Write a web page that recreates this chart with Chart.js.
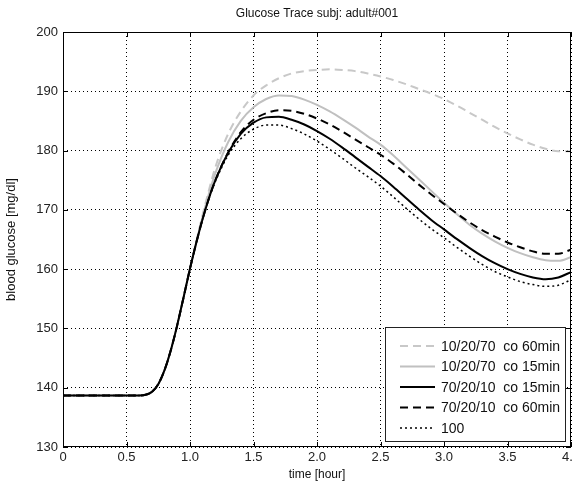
<!DOCTYPE html>
<html>
<head>
<meta charset="utf-8">
<script src="https://cdn.jsdelivr.net/npm/chart.js@4.4.1/dist/chart.umd.min.js"></script>
<style>
body { margin: 0; background: #fff; }
#wrap { width: 572px; height: 482px; }
</style>
</head>
<body>
<div id="wrap"><canvas id="myChart"></canvas></div>
<script>
// time axis (hours)
var hours = [0, 0.6, 0.65, 0.7, 0.75, 0.8, 0.85, 0.9, 0.95, 1.0, 1.05, 1.1, 1.15, 1.2,
  1.3, 1.4, 1.5, 1.6, 1.7, 1.8, 1.9, 2.0, 2.1, 2.2, 2.3, 2.4, 2.5, 2.6, 2.7, 2.8, 2.9,
  3.0, 3.1, 3.2, 3.3, 3.4, 3.5, 3.6, 3.7, 3.8, 3.9, 4.0];

// blood glucose [mg/dl] per scenario
var mix1027co60 = [138.7, 138.7, 138.8, 139.3, 140.6, 143.0, 146.4, 150.6, 155.3, 160.1, 164.7, 169.2, 173.4, 177.2,
  182.8, 186.6, 189.3, 191.0, 192.2, 193.0, 193.4, 193.6, 193.7, 193.6, 193.4, 193.0, 192.5, 191.9, 191.2, 190.4, 189.6,
  188.7, 187.6, 186.4, 185.2, 184.0, 182.9, 181.9, 181.0, 180.3, 179.9, 179.9];
var mix1027co15 = [138.7, 138.7, 138.8, 139.3, 140.6, 143.0, 146.4, 150.6, 155.3, 160.1, 164.6, 168.9, 172.8, 176.2,
  181.4, 185.0, 187.3, 188.7, 189.3, 189.2, 188.6, 187.7, 186.6, 185.3, 183.9, 182.4, 181.0, 179.2, 177.2, 175.2, 173.2,
  171.2, 169.3, 167.5, 166.0, 164.7, 163.6, 162.7, 162.0, 161.5, 161.4, 162.0];
var mix7021co15 = [138.7, 138.7, 138.8, 139.3, 140.6, 143.0, 146.4, 150.6, 155.3, 160.1, 164.5, 168.5, 172.0, 175.0,
  179.6, 182.8, 184.7, 185.6, 185.7, 185.2, 184.4, 183.3, 182.0, 180.5, 178.9, 177.3, 175.7, 173.9, 172.0, 170.1, 168.3,
  166.7, 165.1, 163.6, 162.2, 161.0, 160.0, 159.2, 158.6, 158.3, 158.6, 159.5];
var mix7021co60 = [138.7, 138.7, 138.8, 139.3, 140.6, 143.0, 146.4, 150.6, 155.3, 160.1, 164.5, 168.5, 172.0, 175.0,
  179.7, 183.1, 185.2, 186.3, 186.8, 186.7, 186.2, 185.4, 184.4, 183.2, 181.9, 180.6, 179.3, 177.8, 176.1, 174.3, 172.6,
  171.0, 169.4, 167.9, 166.6, 165.5, 164.5, 163.7, 163.0, 162.6, 162.6, 163.3];
var mix100 = [138.7, 138.7, 138.8, 139.3, 140.6, 143.0, 146.4, 150.6, 155.3, 160.1, 164.5, 168.5, 172.0, 174.8,
  179.2, 182.0, 183.6, 184.3, 184.3, 183.7, 182.8, 181.6, 180.2, 178.7, 177.1, 175.6, 174.0, 172.2, 170.3, 168.5, 166.8,
  165.3, 163.7, 162.2, 160.8, 159.6, 158.7, 157.9, 157.4, 157.1, 157.3, 158.2];

var labels = ['10/20/70  co 60min', '10/20/70  co 15min', '70/20/10  co 15min', '70/20/10  co 60min', '100'];
var series = [mix1027co60, mix1027co15, mix7021co15, mix7021co60, mix100];
var colors = ['#c8c8c8', '#c0c0c0', '#000000', '#000000', '#000000'];
var widths = [2, 2, 2, 2, 1.5];
var dashes = [[8, 5], [], [], [8, 5], [2, 3]];
var drawOrder = [5, 4, 1, 2, 3]; // black lines on top of the grey ones

var FONT = '"Liberation Sans", Arial, sans-serif';

function toPoints(vals) {
  var pts = [];
  for (let i = 0; i < hours.length; i++) {
    pts.push({x: hours[i], y: vals[i]});
  }
  return pts;
}

var datasets = [];
for (let i = 0; i < series.length; i++) {
  datasets.push({
    label: labels[i],
    data: toPoints(series[i]),
    borderColor: colors[i],
    borderWidth: widths[i],
    borderDash: dashes[i],
    order: drawOrder[i],
    pointRadius: 0,
    cubicInterpolationMode: 'monotone',
    fill: false
  });
}

// frame, inward ticks, title and legend, matlab style
var matlabDeco = {
  id: 'matlabDeco',
  afterDraw: function(chart) {
    var ctx = chart.ctx;
    var a = chart.chartArea;
    var xs = chart.scales.x, ys = chart.scales.y;
    ctx.save();
    ctx.strokeStyle = '#000';
    ctx.lineWidth = 1;
    ctx.setLineDash([]);
    ctx.strokeRect(a.left + 0.5, a.top + 0.5, a.right - a.left - 1, a.bottom - a.top - 1);
    ctx.beginPath();
    xs.ticks.forEach(function(t) {
      var px = Math.round(xs.getPixelForValue(t.value)) + 0.5;
      ctx.moveTo(px, a.bottom); ctx.lineTo(px, a.bottom - 5);
      ctx.moveTo(px, a.top); ctx.lineTo(px, a.top + 5);
    });
    ys.ticks.forEach(function(t) {
      var py = Math.round(ys.getPixelForValue(t.value)) + 0.5;
      ctx.moveTo(a.left, py); ctx.lineTo(a.left + 5, py);
      ctx.moveTo(a.right, py); ctx.lineTo(a.right - 5, py);
    });
    ctx.stroke();

    // title
    ctx.fillStyle = '#111';
    ctx.font = '12px ' + FONT;
    ctx.textAlign = 'center';
    ctx.textBaseline = 'middle';
    ctx.fillText('Glucose Trace subj: adult#001', (a.left + a.right) / 2, 14);

    // legend box
    var bw = 180, bh = 114;
    var bx = a.right - 6 - bw, by = a.bottom - 6 - bh;
    ctx.fillStyle = '#fff';
    ctx.fillRect(bx, by, bw, bh);
    ctx.strokeStyle = '#222';
    ctx.strokeRect(bx + 0.5, by + 0.5, bw, bh);
    ctx.font = '14px ' + FONT;
    ctx.textAlign = 'left';
    chart.data.datasets.forEach(function(ds, i) {
      var yy = by + 19 + i * 20.5;
      ctx.strokeStyle = ds.borderColor;
      ctx.lineWidth = ds.borderWidth;
      ctx.setLineDash(ds.borderDash);
      ctx.beginPath();
      ctx.moveTo(bx + 15, yy); ctx.lineTo(bx + 50, yy);
      ctx.stroke();
      ctx.fillStyle = '#111';
      ctx.fillText(ds.label, bx + 56, yy + 1);
    });
    ctx.restore();
  }
};

function zeroPad(scale) {
  scale.paddingLeft = 0; scale.paddingRight = 0;
  scale.paddingTop = 0; scale.paddingBottom = 0;
}

var chart = new Chart(document.getElementById('myChart'), {
  type: 'line',
  data: { datasets: datasets },
  plugins: [matlabDeco],
  options: {
    responsive: true,
    maintainAspectRatio: false,
    animation: false,
    layout: { padding: { top: 32, right: 1, left: 0, bottom: 0 } },
    plugins: {
      legend: { display: false },
      tooltip: { enabled: false }
    },
    scales: {
      x: {
        type: 'linear',
        min: 0, max: 4,
        ticks: { stepSize: 0.5, color: '#222', font: { family: FONT, size: 13 }, padding: 3, maxRotation: 0 },
        grid: { color: '#000', lineWidth: 1, drawTicks: false },
        border: { display: false, dash: [1, 3] },
        title: { display: true, text: 'time [hour]', color: '#111', font: { family: FONT, size: 12 }, padding: { top: 0, bottom: 0 } },
        afterFit: function(scale) { scale.height = 35; zeroPad(scale); }
      },
      y: {
        min: 130, max: 200,
        ticks: { stepSize: 10, color: '#222', font: { family: FONT, size: 13 }, padding: 5 },
        grid: { color: '#000', lineWidth: 1, drawTicks: false },
        border: { display: false, dash: [1, 3] },
        title: { display: true, text: 'blood glucose [mg/dl]', color: '#111', font: { family: FONT, size: 13 }, padding: { top: 4, bottom: 0 } },
        afterFit: function(scale) { scale.width = 63; zeroPad(scale); }
      }
    }
  }
});
</script>
</body>
</html>
